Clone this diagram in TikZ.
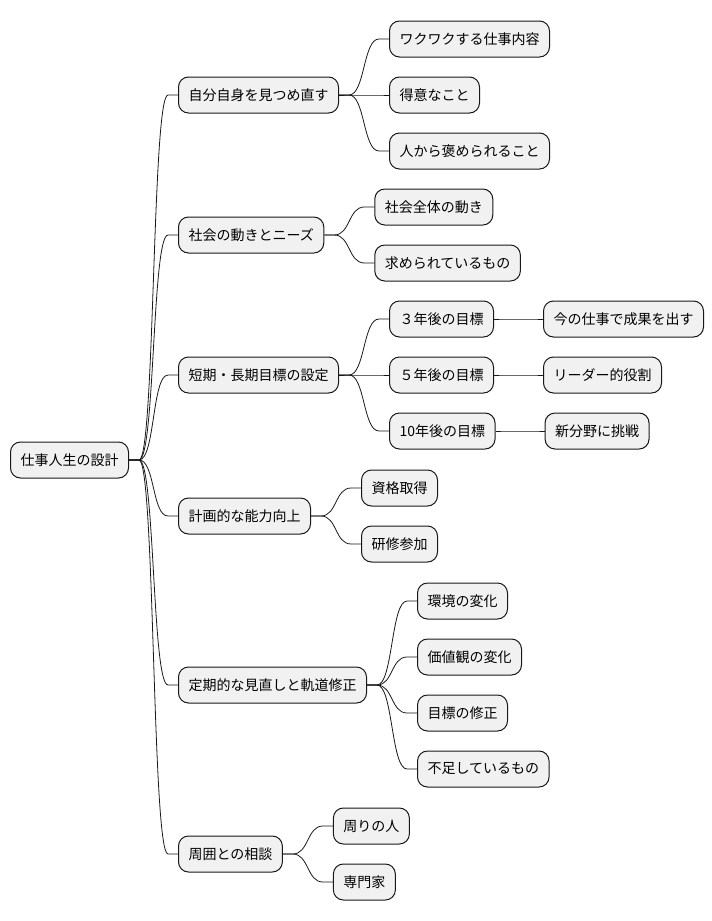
\documentclass[tikz,border=0pt]{standalone}
\usepackage{fontspec}
\setmainfont{Noto Sans CJK JP}
\usetikzlibrary{positioning}
\definecolor{ink}{HTML}{181818}
\definecolor{boxfill}{HTML}{F1F1F1}

\begin{document}
\begin{tikzpicture}[x=1pt, y=-1pt,
  idea/.style={draw=ink, fill=boxfill, line width=1pt, rounded corners=10pt, minimum height=36pt, inner xsep=10pt, inner ysep=0pt, anchor=west, font=\fontsize{14}{16}\selectfont},
  child/.style={idea, xshift=50pt},
  link/.style={draw=ink, line width=0.8pt, to path={-- ++(10,0) .. controls +(16,0) and +(-16,0) .. ([xshift=-10pt]\tikztotarget) -- (\tikztotarget)}}]
  \useasboundingbox (0,0) rectangle (712,921);
  \node[idea] (root) at (10,460) {仕事人生の設計};
  % first level
  \node[child, xshift=-1pt] (self) at (root.east |- 0,95) {自分自身を見つめ直す};
  \node[child, xshift=-1pt] (society) at (root.east |- 0,235) {社会の動きとニーズ};
  \node[child, xshift=-1pt] (goals) at (root.east |- 0,375) {短期・長期目標の設定};
  \node[child, xshift=-1pt] (skills) at (root.east |- 0,516) {計画的な能力向上};
  \node[child, xshift=-1pt] (review) at (root.east |- 0,685) {定期的な見直しと軌道修正};
  \node[child, xshift=-1pt] (consult) at (root.east |- 0,854) {周囲との相談};
  \foreach \n in {self,society,goals,skills,review,consult}
    \draw[link] (root.east) to (\n.west);
  % second level
  \node[child] (exciting) at (self.east |- 0,39) {ワクワクする仕事内容};
  \node[child] (strength) at (self.east |- 0,95) {得意なこと};
  \node[child] (praised) at (self.east |- 0,151) {人から褒められること};
  \foreach \n in {exciting,strength,praised}
    \draw[link] (self.east) to (\n.west);
  \node[child] (trend) at (society.east |- 0,207) {社会全体の動き};
  \node[child] (demand) at (society.east |- 0,263) {求められているもの};
  \foreach \n in {trend,demand}
    \draw[link] (society.east) to (\n.west);
  \node[child] (goalthree) at (goals.east |- 0,319) {３年後の目標};
  \node[child] (goalfive) at (goals.east |- 0,375) {５年後の目標};
  \node[child] (goalten) at (goals.east |- 0,431) {10年後の目標};
  \foreach \n in {goalthree,goalfive,goalten}
    \draw[link] (goals.east) to (\n.west);
  \node[child, xshift=-1pt] (result) at (goalthree.east |- 0,319) {今の仕事で成果を出す};
  \node[child, xshift=-1pt] (leader) at (goalfive.east |- 0,375) {リーダー的役割};
  \node[child, xshift=-1pt] (newfield) at (goalten.east |- 0,431) {新分野に挑戦};
  \draw[link] (goalthree.east) to (result.west);
  \draw[link] (goalfive.east) to (leader.west);
  \draw[link] (goalten.east) to (newfield.west);
  \node[child] (license) at (skills.east |- 0,488) {資格取得};
  \node[child] (training) at (skills.east |- 0,544) {研修参加};
  \foreach \n in {license,training}
    \draw[link] (skills.east) to (\n.west);
  \node[child] (environment) at (review.east |- 0,601) {環境の変化};
  \node[child] (values) at (review.east |- 0,657) {価値観の変化};
  \node[child] (revise) at (review.east |- 0,713) {目標の修正};
  \node[child] (lacking) at (review.east |- 0,769) {不足しているもの};
  \foreach \n in {environment,values,revise,lacking}
    \draw[link] (review.east) to (\n.west);
  \node[child] (people) at (consult.east |- 0,826) {周りの人};
  \node[child] (expert) at (consult.east |- 0,882) {専門家};
  \foreach \n in {people,expert}
    \draw[link] (consult.east) to (\n.west);
\end{tikzpicture}
\end{document}
